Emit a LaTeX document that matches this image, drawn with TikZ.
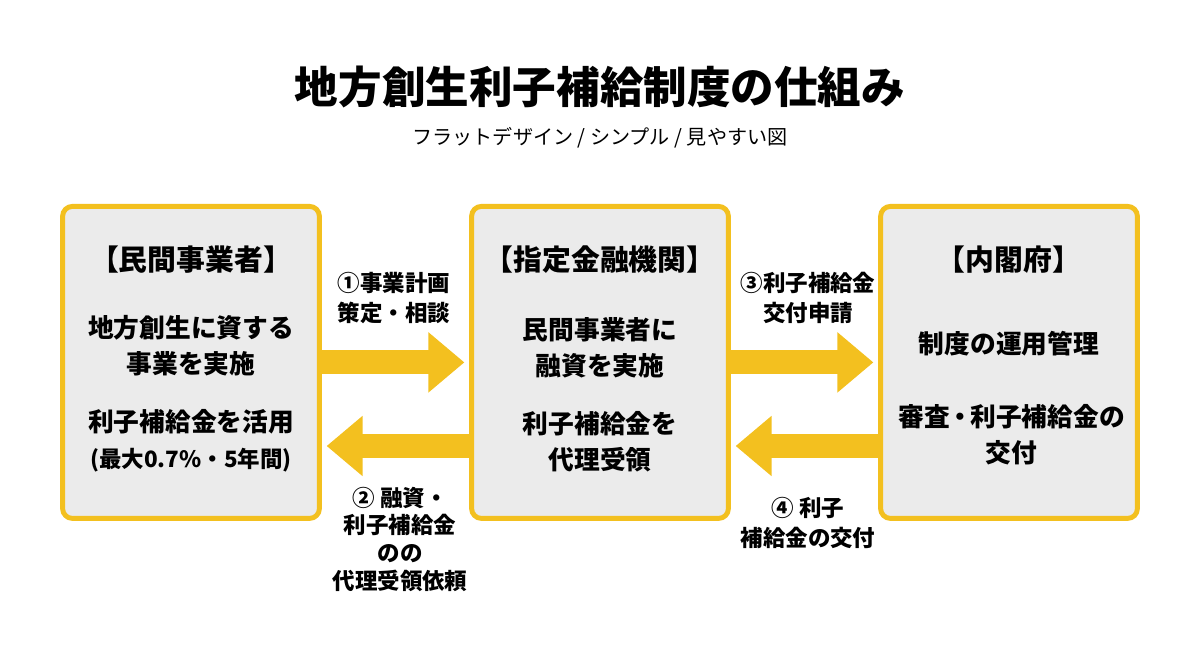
\documentclass[tikz,border=0pt]{standalone}
\usepackage{fontspec}
\setmainfont{Noto Sans CJK JP}
\usetikzlibrary{arrows.meta}
\definecolor{accent}{HTML}{F3C01F}
\definecolor{boxfill}{HTML}{EBEBEB}
\tikzset{
    panel/.style={draw=accent,fill=boxfill,line width=3.5pt,rounded corners=7pt,minimum width=6.42cm,minimum height=7.8cm,inner sep=0pt,outer sep=0pt},
    panelhead/.style={font=\fontsize{20.5}{24}\selectfont\bfseries,align=center},
    paneltext/.style={font=\fontsize{18.3}{25.6}\selectfont\bfseries,align=center},
    steplabel/.style={font=\fontsize{16}{21.3}\selectfont\bfseries,align=center},
    flowline/.style={draw=accent,line width=0.6cm,shorten >=0.18cm,-{Triangle[length=0.9cm,width=1.45cm]}}
}
\begin{document}
\begin{tikzpicture}[x=1cm,y=-1cm]
    \useasboundingbox (0,0) rectangle (30,16.375);
    \node[font=\fontsize{31}{36}\selectfont\bfseries] (title) at (15,2.18) {地方創生利子補給制度の仕組み};
    \node[font=\fontsize{14.3}{17}\selectfont] (subtitle) at (15,3.44) {フラットデザイン / シンプル / 見やすい図};
    % boxes
    \node[panel] (left) at (4.775,9.06) {};
    \node[panel] (mid) at (15,9.06) {};
    \node[panel] (right) at (25.225,9.06) {};
    % arrows
    \draw[flowline] (left.east) -- (mid.west);
    \draw[flowline] ([yshift=-2.09cm]mid.west) -- ([yshift=-2.09cm]left.east);
    \draw[flowline] (mid.east) -- (right.west);
    \draw[flowline] ([yshift=-2.09cm]right.west) -- ([yshift=-2.09cm]mid.east);
    % left
    \node[panelhead] (lefthead) at (4.775,6.5) {【民間事業者】};
    \node[paneltext] (lefttop) at (4.775,8.64) {地方創生に資する\\事業を実施};
    \node[paneltext] (leftlow) at (4.775,11.02) {利子補給金を活用\\{\fontsize{16}{25.6}\selectfont (最大0.7\%・5年間)}};
    % middle
    \node[panelhead] (midhead) at (15,6.5) {【指定金融機関】};
    \node[paneltext] (midtop) at (15,8.7) {民間事業者に\\融資を実施};
    \node[paneltext] (midlow) at (15,11.04) {利子補給金を\\代理受領};
    % right
    \node[panelhead] (righthead) at (25.225,6.5) {【内閣府】};
    \node[paneltext] (righttop) at (25.225,8.58) {制度の運用管理};
    \node[paneltext] (rightlow) at (25.29,10.86) {審査\kern-0.1em・\kern-0.1em 利子補給金の\\交付};
    % labels
    \node[steplabel] (stepa) at (9.85,7.45) {①事業計画\\策定・相談};
    \node[steplabel,font=\fontsize{16}{19.6}\selectfont\bfseries] (stepb) at (10,13.48) {② 融資・\\利子補給金\\のの\\代理受領依頼};
    \node[steplabel] (stepc) at (20.2,7.45) {③利子補給金\\交付申請};
    \node[steplabel] (stepd) at (20.2,13.08) {④ 利子\\補給金の交付};
\end{tikzpicture}
\end{document}
